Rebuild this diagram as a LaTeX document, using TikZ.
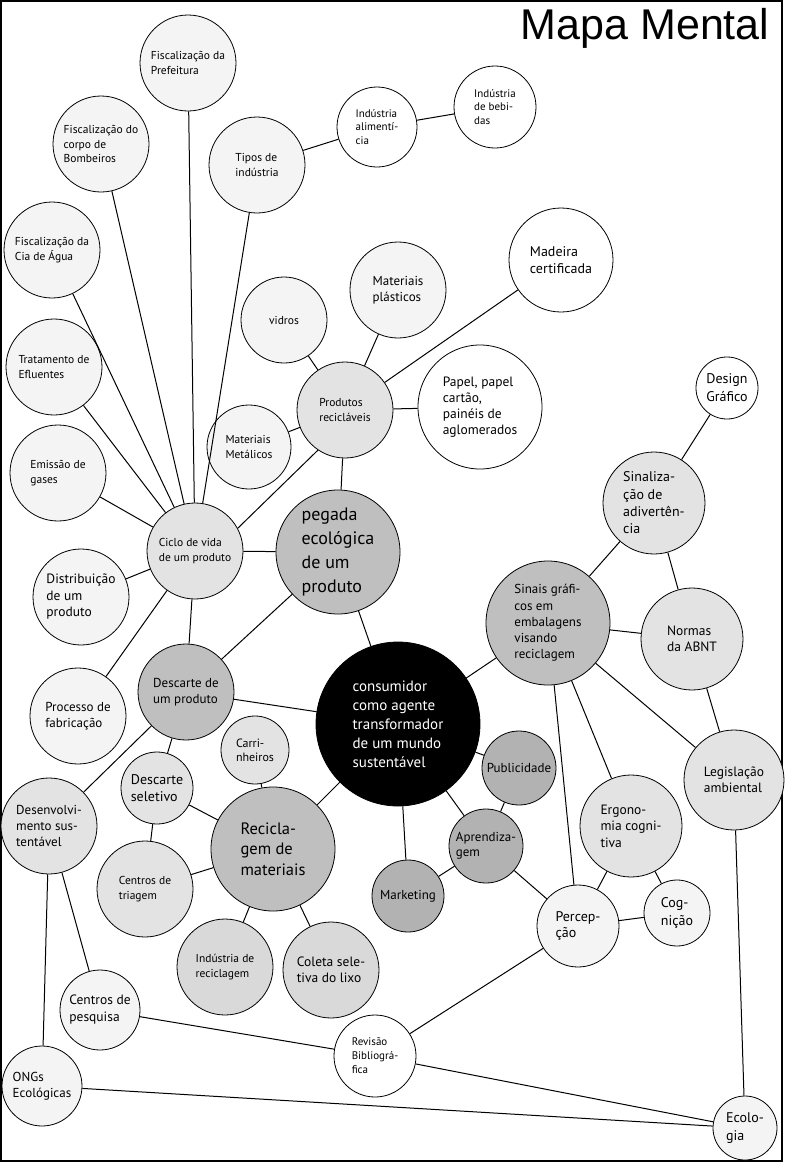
\documentclass[tikz,border=0pt]{standalone}
\usepackage{fontspec}
\setmainfont{PT Sans}
\newfontfamily\titlefont{Liberation Sans}
\usepackage{tikz}

\definecolor{tomA}{gray}{0.955}
\definecolor{tomB}{gray}{0.89}
\definecolor{tomC}{gray}{0.85}
\definecolor{tomD}{gray}{0.75}
\definecolor{tomE}{gray}{0.70}

\tikzset{
  bubble/.style={circle, draw=black, line width=0.8pt, inner sep=0pt, align=left, fill=white},
  txs/.style={font=\fontsize{11.5}{14.5}\selectfont},
  txm/.style={font=\fontsize{13}{16.3}\selectfont},
  txl/.style={font=\fontsize{14}{17.3}\selectfont},
  link/.style={line width=1pt}
}

\begin{document}
\begin{tikzpicture}[x=1pt,y=-1pt]
  \useasboundingbox (0,0) rectangle (787,1162);
  \fill[white] (0,0) rectangle (787,1162);
  \draw[line width=2pt] (1,1) rectangle (782,1161);

  \node[anchor=base east, font=\titlefont\fontsize{43}{43}\selectfont] (titulo) at (773,39) {Mapa Mental};

  % ciclo de vida
  \node[bubble, txs, fill=tomA, minimum size=96pt] (prefeitura) at (188,63) {Fiscalização da\\Prefeitura};
  \node[bubble, txs, fill=tomA, minimum size=96pt] (bombeiros) at (101,144) {Fiscalização do\\corpo de\\Bombeiros};
  \node[bubble, txs, fill=tomA, minimum size=96pt] (tipos) at (257,165) {Tipos de\\indústria};
  \node[bubble, font=\fontsize{11}{13.7}\selectfont, minimum size=80pt] (alim) at (377,127) {Indústria\\alimentí-\\cia};
  \node[bubble, font=\fontsize{11}{13.5}\selectfont, minimum size=82pt] (bebidas) at (495,107) {Indústria\\de bebi-\\das};
  \node[bubble, txs, fill=tomA, minimum size=96pt] (agua) at (52,250) {Fiscalização da\\Cia de Água};
  \node[bubble, txs, fill=tomA, minimum size=96pt] (efluentes) at (54,367) {Tratamento de\\Efluentes};
  \node[bubble, txs, fill=tomA, minimum size=96pt] (gases) at (58,473) {Emissão de\\gases};
  \node[bubble, font=\fontsize{13.5}{16.5}\selectfont, fill=tomA, minimum size=96pt] (distrib) at (81,597) {Distribuição\\de um\\produto};
  \node[bubble, txm, fill=tomA, minimum size=96pt] (processo) at (78,716) {Processo de\\fabricação};
  \node[bubble, txs, fill=tomB, minimum size=96pt] (ciclo) at (195,551) {Ciclo de vida\\de um produto};

  % produtos recicláveis
  \node[bubble, txs, fill=tomB, minimum size=96pt] (produtos) at (345,410) {Produtos\\recicláveis};
  \node[bubble, txs, fill=tomA, minimum size=86pt] (vidros) at (284,320) {vidros};
  \node[bubble, txm, fill=tomA, minimum size=96pt] (plasticos) at (398,290) {Materiais\\plásticos};
  \node[bubble, txl, minimum size=104pt] (madeira) at (561,260) {Madeira\\certificada};
  \node[bubble, font=\fontsize{13.5}{16}\selectfont, minimum size=124pt] (papel) at (480,407) {Papel, papel\\cartão,\\painéis de\\aglomerados};
  \node[bubble, txs, fill=tomA, minimum size=84pt] (metalicos) at (249,447) {Materiais\\Metálicos};

  % centro
  \node[bubble, font=\fontsize{18}{24}\selectfont, fill=tomD, minimum size=124pt] (pegada) at (338,552) {pegada\\ecológica\\de um\\produto};
  \node[bubble, font=\fontsize{15}{19}\selectfont, fill=black, text=white, minimum size=164pt] (consumidor) at (398,724) {consumidor\\como agente\\transformador\\de um mundo\\sustentável};

  % descarte
  \node[bubble, txm, fill=tomD, minimum size=96pt] (descarte) at (186,692) {Descarte de\\um produto};
  \node[bubble, font=\fontsize{12}{14}\selectfont, fill=tomB, minimum size=68pt] (carrinheiros) at (255,750) {Carri-\\nheiros};
  \node[bubble, font=\fontsize{14}{17.5}\selectfont, fill=tomB, minimum size=72pt] (seletivo) at (157,788) {Descarte\\seletivo};
  \node[bubble, font=\fontsize{16.5}{20.5}\selectfont, fill=tomD, minimum size=124pt] (reciclagem) at (273,849) {Recicla-\\gem de\\materiais};
  \node[bubble, txm, fill=tomB, minimum size=96pt] (desenv) at (49,826) {Desenvolvi-\\mento sus-\\tentável};
  \node[bubble, txs, fill=tomB, minimum size=96pt] (triagem) at (145,889) {Centros de\\triagem};
  \node[bubble, txs, fill=tomC, minimum size=96pt] (indrecic) at (225,967) {Indústria de\\reciclagem};
  \node[bubble, font=\fontsize{13.5}{16}\selectfont, fill=tomC, minimum size=96pt] (coleta) at (331,970) {Coleta sele-\\tiva do lixo};
  \node[bubble, font=\fontsize{13.5}{17}\selectfont, fill=tomA, minimum size=80pt] (pesquisa) at (100,1010) {Centros de\\pesquisa};
  \node[bubble, txm, fill=tomA, minimum size=80pt] (ongs) at (42,1086) {ONGs\\Ecológicas};
  \node[bubble, font=\fontsize{11}{14}\selectfont, minimum size=82pt] (revisao) at (375,1056) {Revisão\\Bibliográ-\\fica};
  \node[bubble, font=\fontsize{14}{18.5}\selectfont, fill=tomA, minimum size=64pt] (ecologia) at (745,1128) {Ecolo-\\gia};

  % comunicacao
  \node[bubble, txm, fill=tomE, minimum size=72pt] (marketing) at (408,896) {Marketing};
  \node[bubble, font=\fontsize{13}{15}\selectfont, fill=tomE, minimum size=74pt] (aprend) at (486,846) {Aprendiza-\\gem};
  \node[bubble, txm, fill=tomE, minimum size=74pt] (publicidade) at (519,768) {Publicidade};
  \node[bubble, txm, fill=tomD, minimum size=124pt] (sinais) at (548,623) {Sinais gráfi-\\cos em\\embalagens\\visando\\reciclagem};
  \node[bubble, txl, fill=tomB, minimum size=102pt] (sinalizacao) at (654,503) {Sinaliza-\\ção de\\adivertên-\\cia};
  \node[bubble, font=\fontsize{14}{18}\selectfont, minimum size=62pt] (design) at (727,388) {Design\\Gráfico};
  \node[bubble, font=\fontsize{13.5}{16}\selectfont, fill=tomB, minimum size=102pt] (normas) at (692,639) {Normas\\da ABNT};
  \node[bubble, font=\fontsize{13.5}{16.5}\selectfont, fill=tomB, minimum size=100pt] (legislacao) at (734,780) {Legislação\\ambiental};
  \node[bubble, font=\fontsize{13.5}{16.5}\selectfont, fill=tomB, minimum size=102pt] (ergonomia) at (631,826) {Ergono-\\mia cogni-\\tiva};
  \node[bubble, font=\fontsize{14}{16.5}\selectfont, fill=tomA, minimum size=82pt] (percepcao) at (578,926) {Percep-\\ção};
  \node[bubble, font=\fontsize{14}{18}\selectfont, fill=tomA, minimum size=66pt] (cognicao) at (677,913) {Cog-\\nição};

  % ligacoes
  \draw[link] (ciclo) -- (prefeitura);
  \draw[link] (ciclo) -- (bombeiros);
  \draw[link] (ciclo) -- (tipos);
  \draw[link] (tipos) -- (alim);
  \draw[link] (alim) -- (bebidas);
  \draw[link] (ciclo) -- (agua);
  \draw[link] (ciclo) -- (efluentes);
  \draw[link] (ciclo) -- (gases);
  \draw[link] (ciclo) -- (distrib);
  \draw[link] (ciclo) -- (processo);
  \draw[link] (ciclo.28) -- (produtos.236);
  \draw[link] (ciclo) -- (pegada);
  \draw[link] (ciclo) -- (descarte);

  \draw[link] (produtos) -- (vidros);
  \draw[link] (produtos) -- (plasticos);
  \draw[link] (produtos) -- (madeira);
  \draw[link] (produtos) -- (papel);
  \draw[link] (produtos) -- (metalicos);
  \draw[link] (produtos) -- (pegada);

  \draw[link] (pegada) -- (consumidor);
  \draw[link] (pegada) -- (descarte);
  \draw[link] (descarte) -- (consumidor);
  \draw[link] (descarte) -- (desenv);
  \draw[link] (descarte) -- (seletivo);
  \draw[link] (seletivo) -- (reciclagem);
  \draw[link] (seletivo) -- (triagem);
  \draw[link] (carrinheiros) -- (reciclagem);
  \draw[link] (reciclagem) -- (triagem);
  \draw[link] (reciclagem) -- (indrecic);
  \draw[link] (reciclagem) -- (coleta);
  \draw[link] (reciclagem) -- (consumidor);

  \draw[link] (consumidor) -- (marketing);
  \draw[link] (consumidor) -- (publicidade);
  \draw[link] (consumidor) -- (aprend);
  \draw[link] (publicidade) -- (aprend);
  \draw[link] (aprend) -- (marketing);
  \draw[link] (aprend) -- (percepcao);
  \draw[link] (consumidor) -- (sinais);

  \draw[link] (sinais) -- (sinalizacao);
  \draw[link] (sinalizacao) -- (design);
  \draw[link] (sinalizacao) -- (normas);
  \draw[link] (sinais) -- (normas);
  \draw[link] (normas) -- (legislacao);
  \draw[link] (sinais) -- (legislacao);
  \draw[link] (sinais) -- (ergonomia);
  \draw[link] (sinais) -- (percepcao);
  \draw[link] (ergonomia) -- (percepcao);
  \draw[link] (ergonomia) -- (cognicao);
  \draw[link] (percepcao) -- (cognicao);

  \draw[link] (legislacao) -- (ecologia);
  \draw[link] (percepcao) -- (revisao);
  \draw[link] (revisao) -- (ecologia);
  \draw[link] (pesquisa) -- (revisao);
  \draw[link] (ongs) -- (ecologia);
  \draw[link] (desenv) -- (ongs);
  \draw[link] (desenv) -- (pesquisa);
\end{tikzpicture}
\end{document}
